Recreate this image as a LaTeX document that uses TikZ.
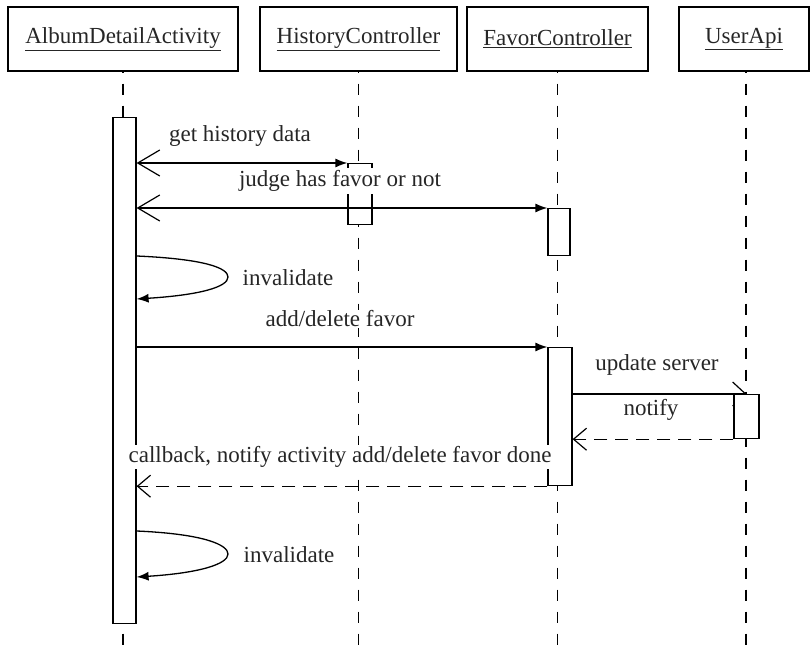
\documentclass[tikz,border=0pt]{standalone}
\usepackage{fontspec}
\setmainfont{Liberation Serif}
\usetikzlibrary{arrows.meta}
\begin{document}
\begin{tikzpicture}[x=1pt,y=-1pt,
  txt/.style={font=\fontsize{23}{27}\selectfont, text=black!85},
  obj/.style={draw, line width=1.3pt, minimum height=64pt, inner sep=0pt, txt},
  bar/.style={draw, line width=1.2pt, fill=white, inner sep=0pt, anchor=north},
  lifeline/.style={line width=1.3pt, dash pattern=on 11pt off 11pt},
  msg/.style={line width=1.3pt},
  ret/.style={line width=1.3pt, dash pattern=on 13pt off 8pt},
  lbl/.style={txt, fill=white, inner sep=1pt},
  filled/.style={-{Latex[length=12pt,width=9pt]}},
  bothtips/.style={{Straight Barb[length=22pt,width=26pt,line width=1.2pt]}-{Latex[length=12pt,width=9pt]}},
  opensmall/.style={-{Straight Barb[length=13pt,width=22pt,line width=1.2pt]}}
]
\useasboundingbox (0,0) rectangle (810,652);

% objects
\node[obj, minimum width=230pt] (album) at (123,39) {\underline{AlbumDetailActivity}};
\node[obj, minimum width=197pt] (hist) at (358.5,39) {\underline{HistoryController}};
\node[obj, minimum width=181pt] (favor) at (557.5,39) {\underline{FavorController}};
\node[obj, minimum width=130pt] (uapi) at (744,39) {\underline{UserApi}};

\coordinate (albumEnd) at (123,660);
\coordinate (histEnd) at (358.5,660);
\coordinate (favorEnd) at (557.5,660);
\coordinate (uapiEnd) at (746,660);

% lifelines
\draw[lifeline, dash phase=-12pt] (album.south) -- (albumEnd);
\draw[lifeline, dash phase=-12pt] (hist.south) -- (histEnd);
\draw[lifeline, dash phase=-12pt] (favor.south) -- (favorEnd);
\draw[lifeline, dash phase=-12pt] (uapi.south -| uapiEnd) -- (uapiEnd);

% activation bars
\node[bar, minimum width=23pt, minimum height=506pt] (abar) at (124.5,117) {};
\node[bar, minimum width=24pt, minimum height=61pt] (hbar) at (360,163) {};
\node[bar, minimum width=22pt, minimum height=47pt] (fbar1) at (559,208) {};
\node[bar, minimum width=24pt, minimum height=138pt] (fbar2) at (560,347) {};

% update server (drawn under the UserApi bar)
\draw[msg, -{Straight Barb[length=13pt,width=24pt,line width=1.2pt]}] (fbar2.east |- 0,394) -- (746.5,394) coordinate (uaTip);
\node[bar, minimum width=25pt, minimum height=44pt] (ubar) at (uaTip) {};

% messages
\draw[msg, bothtips] (abar.east |- hbar.north) -- (hbar.north west);
\node[lbl] (l1) at (240,136) {get history data};

\node[lbl, inner sep=2pt] (l2) at (340,181) {judge has favor or not};
\draw[msg, bothtips] (abar.east |- fbar1.north) -- (fbar1.north west);

\draw[msg, filled] (abar.east |- 0,256) .. controls (205,259) and (228,268) .. (228,277)
      .. controls (228,287) and (200,295) .. (abar.east |- 0,299);
\node[lbl] (l3) at (288,278) {invalidate};

\draw[msg, filled] (abar.east |- fbar2.north) -- (fbar2.north west);
\node[lbl] (l4) at (340,319) {add/delete favor};

\node[lbl] (l5) at (657,365) {update server};

\draw[ret, opensmall] (ubar.south west) -- (fbar2.east |- ubar.south);
\node[lbl] (l6) at (651,410) {notify};

\draw[ret, opensmall] (fbar2.south west) -- (abar.east |- fbar2.south);
\node[lbl] (l7) at (340,457) {callback, notify activity add/delete favor done};

\draw[msg, filled] (abar.east |- 0,531) .. controls (205,534) and (228,545) .. (228,554)
      .. controls (228,564) and (200,573) .. (abar.east |- 0,577);
\node[lbl] (l8) at (289,555) {invalidate};
\end{tikzpicture}
\end{document}
